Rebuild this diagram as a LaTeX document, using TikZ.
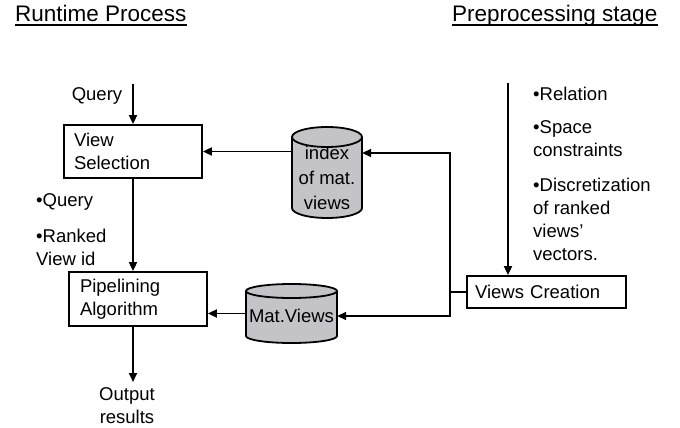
\documentclass[tikz,border=0pt]{standalone}
\usepackage{fontspec}
\setmainfont{Liberation Sans}
\usetikzlibrary{arrows.meta}
\definecolor{cylgray}{RGB}{195,195,200}
\begin{document}
\begin{tikzpicture}[x=1pt,y=-1pt,
  every node/.style={font=\fontsize{18.5}{23}\selectfont, inner sep=0pt},
  title/.style={font=\fontsize{22.5}{26}\selectfont, anchor=base west},
  procbox/.style={draw, line width=1.8pt, align=left, text width=#1, minimum height=53pt},
  lbl/.style={anchor=west, align=left},
  arr/.style={line width=1.8pt, -{Triangle[length=9pt,width=8pt]}},
  ln/.style={line width=1.8pt},
  uline/.style={line width=1.3pt}
]
\useasboundingbox (0,0) rectangle (680,428);

% titles
\node[title] (t1) at (15,22) {Runtime Process};
\node[title] (t2) at (452,22) {Preprocessing stage};
\draw[uline] ([yshift=-3pt]t1.base west) -- ([yshift=-3pt]t1.base east);
\draw[uline] ([yshift=-3pt]t2.base west) -- ([yshift=-3pt]t2.base east);

% process boxes
\node[procbox=118pt, inner xsep=10pt] (vs) at (133,151.5) {View\\Selection};
\node[procbox=116pt, inner xsep=11pt, minimum height=54pt] (pa) at (138,299) {Pipelining\\Algorithm};
\node[draw, line width=1.8pt, minimum width=159pt, minimum height=32pt, text width=143pt, inner xsep=8pt, align=left] (vc) at (546.5,292) {Views Creation};

% index cylinder
\node[minimum width=70pt, minimum height=91pt] (idx) at (327,172.5) {};
\fill[cylgray] (292,137) -- (292,208) arc[start angle=180,end angle=0,x radius=35,y radius=10] -- (362,137) -- cycle;
\node[align=center, font=\fontsize{18.5}{25}\selectfont] (idxt) at (327,178) {index\\of mat.\\views};
\filldraw[ln, fill=cylgray] (327,137) ellipse[x radius=35, y radius=10];
\draw[ln] (292,137) -- (292,208) arc[start angle=180,end angle=0,x radius=35,y radius=10] -- (362,137);

% mat views cylinder
\node[minimum width=91pt, minimum height=59pt] (mv) at (291.5,313.5) {};
\fill[cylgray] (246,291) -- (246,336) arc[start angle=180,end angle=0,x radius=45.5,y radius=7] -- (337,291) -- cycle;
\filldraw[ln, fill=cylgray] (291.5,291) ellipse[x radius=45.5, y radius=7];
\draw[ln] (246,291) -- (246,336) arc[start angle=180,end angle=0,x radius=45.5,y radius=7] -- (337,291);
\node (mvt) at (291.5,316) {Mat.Views};

% labels
\node (q) at (97,96) {Query};
\coordinate (qs) at (133,84);
\node[lbl] (l1) at (36,202) {•Query};
\node[lbl] (l2) at (36,247.5) {•Ranked\\View id};
\node[align=center] (out) at (127,406) {Output\\results};
\coordinate (os) at (133,382);
\node[lbl] (r1) at (533,94) {•Relation};
\node[lbl] (r2) at (533,139) {•Space\\constraints};
\node[lbl] (r3) at (533,219) {•Discretization\\of ranked\\views'\\vectors.};
\coordinate (ps) at (508,83);

% connectors
\draw[arr] (qs) -- (qs |- vs.north);
\draw[arr] (vs.south) -- (vs.south |- pa.north);
\draw[arr] (vs.south |- pa.south) -- (os);
\draw[arr] (ps) -- (ps |- vc.north);
\draw[arr] (idx.west |- vs.east) -- (vs.east);
\draw[arr] (mv.west) -- (mv.west -| pa.east);
\draw[ln] (vc.west) -- ++(-16,0) coordinate (j);
\draw[arr] (j) |- (idx.east |- 0,153);
\draw[arr] (j) |- (mv.east |- 0,316);
\end{tikzpicture}
\end{document}
